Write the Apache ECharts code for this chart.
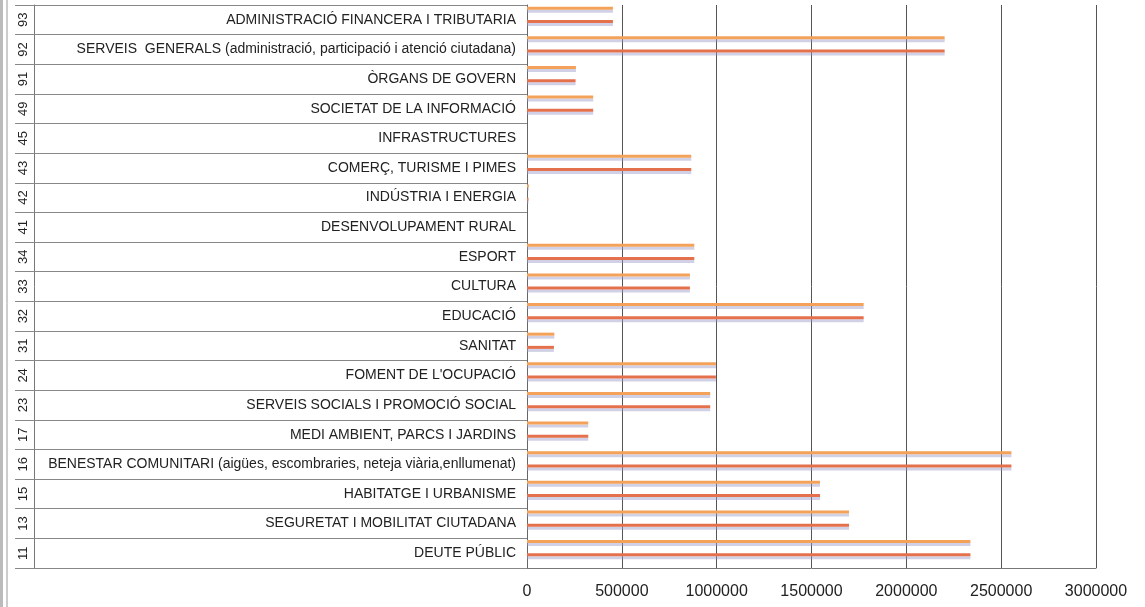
<!DOCTYPE html>
<html>
<head>
<meta charset="utf-8">
<script src="https://cdn.jsdelivr.net/npm/echarts@6/dist/echarts.min.js"></script>
<style>
html,body{margin:0;padding:0;background:#fff;}
#chart{width:1145px;height:607px;}
</style>
</head>
<body>
<div id="chart"></div>
<script>
// Top-to-bottom order, as in the picture
const codes = ['93','92','91','49','45','43','42','41','34','33','32','31','24','23','17','16','15','13','11'];
const categories = [
  'ADMINISTRACIÓ FINANCERA I TRIBUTARIA',
  'SERVEIS  GENERALS (administració, participació i atenció ciutadana)',
  'ÒRGANS DE GOVERN',
  'SOCIETAT DE LA INFORMACIÓ',
  'INFRASTRUCTURES',
  'COMERÇ, TURISME I PIMES',
  'INDÚSTRIA I ENERGIA',
  'DESENVOLUPAMENT RURAL',
  'ESPORT',
  'CULTURA',
  'EDUCACIÓ',
  'SANITAT',
  "FOMENT DE L'OCUPACIÓ",
  'SERVEIS SOCIALS I PROMOCIÓ SOCIAL',
  'MEDI AMBIENT, PARCS I JARDINS',
  'BENESTAR COMUNITARI (aigües, escombraries, neteja viària,enllumenat)',
  'HABITATGE I URBANISME',
  'SEGURETAT I MOBILITAT CIUTADANA',
  'DEUTE PÚBLIC'
];
const seriesA = [453000, 2202000, 258000, 349000, 0, 866000, 10000, 0, 882000, 859000, 1775000, 144000, 996000, 966000, 323000, 2554000, 1545000, 1698000, 2338000];
const seriesB = [453000, 2202000, 256000, 349000, 0, 866000, 8000, 0, 882000, 859000, 1775000, 142000, 996000, 966000, 323000, 2554000, 1545000, 1698000, 2338000];
const xTicks = [0, 500000, 1000000, 1500000, 2000000, 2500000, 3000000];

const chart = echarts.init(document.getElementById('chart'), null, {renderer: 'canvas'});
const FONT = 'Arial, "Liberation Sans", sans-serif';
const shadow = {shadowColor: 'rgba(150,150,200,0.45)', shadowOffsetY: 3, shadowBlur: 0};

chart.setOption({
  animation: false,
  backgroundColor: '#fff',
  grid: [
    {left: 527, right: 49, top: 5, bottom: 39, containLabel: false},
    {left: 527, right: 49, top: 0, bottom: 44, containLabel: false}
  ],
  xAxis: [
    {
      gridIndex: 0, type: 'value',
      min: xTicks[0], max: xTicks[xTicks.length - 1], interval: xTicks[1] - xTicks[0],
      axisLine: {show: true, lineStyle: {color: '#777', width: 1}},
      axisTick: {show: false},
      splitLine: {show: true, lineStyle: {color: '#555', width: 1}},
      axisLabel: {fontSize: 16, color: '#222', fontFamily: FONT, margin: 16,
        formatter: function (v) { return String(v); }}
    },
    {
      gridIndex: 1, type: 'value', show: false,
      min: xTicks[0], max: xTicks[xTicks.length - 1]
    }
  ],
  yAxis: [
    {
      gridIndex: 0, type: 'category', data: categories, inverse: true,
      axisLine: {show: true, lineStyle: {color: '#666', width: 1}},
      axisTick: {show: true, length: 512, lineStyle: {color: '#888', width: 1}},
      axisLabel: {fontSize: 14, color: '#222', fontFamily: FONT, margin: 11}
    },
    {
      gridIndex: 0, type: 'category', data: codes, inverse: true,
      position: 'left', offset: 493,
      axisLine: {show: true, lineStyle: {color: '#777', width: 1}},
      axisTick: {show: false},
      axisLabel: {fontSize: 13, color: '#222', fontFamily: FONT, rotate: 90, margin: 4}
    },
    {
      gridIndex: 1, type: 'category', data: categories, inverse: true, show: false
    }
  ],
  graphic: [
    {type: 'line', shape: {x1: 1.5, y1: 0, x2: 1.5, y2: 607}, style: {stroke: '#bbb', lineWidth: 3}, silent: true},
    {type: 'line', shape: {x1: 7, y1: 0, x2: 7, y2: 607}, style: {stroke: '#999', lineWidth: 1}, silent: true}
  ],
  series: [
    {
      name: 'A', type: 'bar', xAxisIndex: 1, yAxisIndex: 2, data: seriesA,
      barWidth: 3, barGap: '340%',
      itemStyle: Object.assign({color: '#f4a259'}, shadow)
    },
    {
      name: 'B', type: 'bar', xAxisIndex: 1, yAxisIndex: 2, data: seriesB,
      barWidth: 3, barGap: '340%',
      itemStyle: Object.assign({color: '#e4704c'}, shadow)
    }
  ]
});
</script>
</body>
</html>
